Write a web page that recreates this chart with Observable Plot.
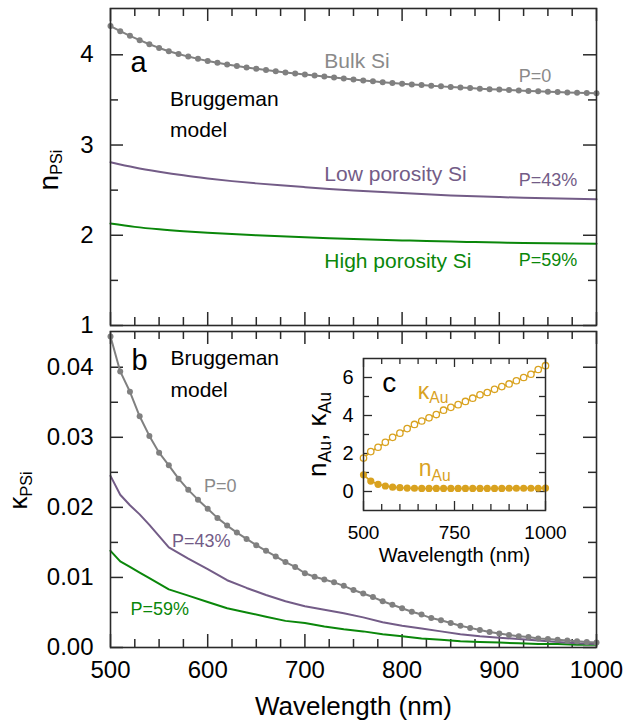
<!DOCTYPE html>
<html>
<head>
<meta charset="utf-8">
<script src="https://cdn.jsdelivr.net/npm/d3@7"></script>
<script src="https://cdn.jsdelivr.net/npm/@observablehq/plot@0.6"></script>
<style>
  html, body { margin: 0; padding: 0; background: #fff; }
  #chart { position: relative; width: 626px; height: 723px; overflow: hidden; }
  #chart svg { position: absolute; left: 0; max-width: none; }
</style>
</head>
<body>
<div id="chart"></div>
<script>
// ---------------- data ----------------
const wl10 = [500,510,520,530,540,550,560,570,580,590,600,610,620,630,640,650,660,670,680,690,700,710,720,730,740,750,760,770,780,790,800,810,820,830,840,850,860,870,880,890,900,910,920,930,940,950,960,970,980,990,1000];
const wl20 = [500,520,540,560,580,600,620,640,660,680,700,720,740,760,780,800,820,840,860,880,900,920,940,960,980,1000];
const wl25 = [500,525,550,575,600,625,650,675,700,725,750,775,800,825,850,875,900,925,950,975,1000];
const wlK  = [500,510,520,530,540,560,580,600,620,640,660,680,700,720,740,760,780,800,820,840,860,880,900,920,940,960,980,1000];

// (a) refractive index n of porous Si
const nBulk = [4.318,4.262,4.210,4.162,4.117,4.076,4.040,4.008,3.980,3.955,3.932,3.912,3.893,3.876,3.860,3.845,3.831,3.818,3.805,3.793,3.781,3.770,3.759,3.748,3.737,3.727,3.716,3.706,3.697,3.688,3.680,3.672,3.664,3.657,3.650,3.643,3.637,3.631,3.625,3.619,3.614,3.609,3.604,3.599,3.595,3.591,3.587,3.583,3.580,3.577,3.574];
const nLow  = [2.81,2.752,2.705,2.664,2.630,2.600,2.575,2.553,2.533,2.514,2.497,2.481,2.467,2.454,2.442,2.432,2.423,2.415,2.409,2.404,2.40];
const nHigh = [2.13,2.093,2.066,2.045,2.028,2.013,2.000,1.988,1.977,1.967,1.958,1.950,1.943,1.936,1.930,1.925,1.920,1.915,1.911,1.908,1.906];

// (b) extinction coefficient kappa of porous Si
const kBulk = [0.0444,0.0394,0.0365,0.0330,0.0302,0.0278,0.0260,0.0241,0.0225,0.0211,0.0198,0.0185,0.0174,0.0164,0.0155,0.0146,0.0138,0.0130,0.0122,0.0115,0.0106,0.0101,0.0097,0.0093,0.0088,0.0082,0.0077,0.0072,0.0066,0.0061,0.0056,0.0051,0.0047,0.0042,0.0039,0.0035,0.0031,0.0028,0.0025,0.0022,0.0020,0.0018,0.0016,0.0015,0.0013,0.0012,0.0011,0.0010,0.0009,0.0008,0.0007];
const kLow  = [0.0245,0.0218,0.0203,0.0190,0.0175,0.0143,0.0127,0.0112,0.0096,0.0085,0.0075,0.0066,0.0059,0.0054,0.0049,0.0043,0.0036,0.0031,0.0027,0.0023,0.0019,0.0016,0.0014,0.0012,0.0010,0.0008,0.0006,0.0005];
const kHigh = [0.0138,0.0123,0.0115,0.0107,0.0099,0.0083,0.0074,0.0065,0.0056,0.0050,0.0044,0.0038,0.0035,0.0030,0.0026,0.0023,0.0019,0.0016,0.0013,0.0011,0.0009,0.0008,0.0007,0.0006,0.0005,0.0005,0.0004,0.0004];

// (c) gold optical constants
const kAu = [1.76,2.10,2.33,2.59,2.85,3.07,3.31,3.53,3.71,3.88,4.05,4.28,4.43,4.57,4.74,4.91,5.09,5.21,5.38,5.52,5.66,5.83,6.00,6.17,6.42,6.62];
const nAu = [0.88,0.55,0.38,0.29,0.23,0.20,0.18,0.17,0.16,0.16,0.16,0.16,0.16,0.16,0.16,0.16,0.16,0.16,0.16,0.16,0.17,0.17,0.17,0.17,0.17,0.18];

// tick values
const xMajor = [500,600,700,800,900,1000];
const xMinor = [525,550,575,625,650,675,725,750,775,825,850,875,925,950,975];
const nMajor = [1,2,3,4];
const nMinor = [1.5,2.5,3.5];
const kMajor = [0,0.01,0.02,0.03,0.04];
const kMinor = [0.005,0.015,0.025,0.035];
const inXMajor = [500,750,1000];
const inXMinor = [550,600,650,700,800,850,900,950];
const inYMajor = [0,2,4,6];
const inYMinor = [1,3,5];

// annotations (anchored in data units)
const annA = {panel: "a", brug1: "Bruggeman", brug2: "model"};
const labelsTopGray = [{t: "Bulk Si", w: 720, v: 3.851}, {t: "P=0", w: 920, v: 3.704}];
const labelsTopPurple = [{t: "Low porosity Si", w: 720, v: 2.601}, {t: "P=43%", w: 920, v: 2.551}];
const labelsTopGreen = [{t: "High porosity Si", w: 720, v: 1.642}, {t: "P=59%", w: 920, v: 1.664}];

// ---------------- style ----------------
const FONT = '"Liberation Sans", Arial, Helvetica, sans-serif';
const GRAY = "#808080", GRAYTXT = "#8a8a8a";
const PURPLE = "#735c87", GREEN = "#0a870a", GOLD = "#d9a21f";
const FRAME = "#2a2a2a";
const W = 626;
const ML = 110, MR = 30;
const innerW = W - ML - MR;
const plain = d => String(d);

const zip = (xs, ys) => xs.map((x, i) => ({w: x, v: ys[i]}));

function edgeTicks(xMaj, xMin, yMaj, yMin, iw, ih, big, small, sw) {
  const o = {stroke: FRAME, strokeWidth: sw};
  return [
    Plot.tickX(xMaj, {x: d => d, insetBottom: ih - big, ...o}),
    Plot.tickX(xMaj, {x: d => d, insetTop: ih - big, ...o}),
    Plot.tickX(xMin, {x: d => d, insetBottom: ih - small, ...o}),
    Plot.tickX(xMin, {x: d => d, insetTop: ih - small, ...o}),
    Plot.tickY(yMaj, {y: d => d, insetRight: iw - big, ...o}),
    Plot.tickY(yMaj, {y: d => d, insetLeft: iw - big, ...o}),
    Plot.tickY(yMin, {y: d => d, insetRight: iw - small, ...o}),
    Plot.tickY(yMin, {y: d => d, insetLeft: iw - small, ...o})
  ];
}

function applySub(svg, subScale, shift) {
  d3.select(svg).selectAll("text").each(function () {
    const raw = this.textContent;
    if (!raw.includes("_{")) return;
    const el = d3.select(this);
    el.text(null);
    const parts = raw.split(/(_\{[^}]*\})/).filter(p => p.length);
    let down = false;
    for (const p of parts) {
      if (p.startsWith("_{")) {
        el.append("tspan").attr("font-size", `${subScale}em`).attr("dy", `${(shift / subScale).toFixed(3)}em`).text(p.slice(2, -1));
        down = true;
      } else {
        const t = el.append("tspan").text(p);
        if (down) { t.attr("dy", `${-shift}em`); down = false; }
      }
    }
  });
}

const baseStyle = {fontFamily: FONT, background: "transparent", overflow: "visible", color: "black"};
const chart = document.getElementById("chart");

// ---------------- panel a ----------------
const topH = 330, topMT = 8, topMB = 5;
const topPlot = Plot.plot({
  width: W, height: topH,
  marginLeft: ML, marginRight: MR, marginTop: topMT, marginBottom: topMB,
  style: baseStyle,
  x: {domain: [500, 1000], axis: null},
  y: {domain: [1, 4.513]},
  marks: [
    ...edgeTicks(xMajor, xMinor, nMajor, nMinor, innerW, topH - topMT - topMB, 13, 8, 1.5),
    Plot.axisY(nMajor, {tickSize: 0, tickPadding: 17, fontSize: 24, label: null, tickFormat: plain, fill: "black"}),
    Plot.line(zip(wl25, nHigh), {x: "w", y: "v", stroke: GREEN, strokeWidth: 2, curve: "monotone-x"}),
    Plot.line(zip(wl25, nLow), {x: "w", y: "v", stroke: PURPLE, strokeWidth: 2, curve: "monotone-x"}),
    Plot.line(zip(wl10, nBulk), {x: "w", y: "v", stroke: GRAY, strokeWidth: 2}),
    Plot.dot(zip(wl10, nBulk), {x: "w", y: "v", r: 3, fill: GRAY, stroke: "none"}),
    Plot.text([annA.panel], {x: 520.6, y: 3.804, fontSize: 29, textAnchor: "start", lineAnchor: "bottom", fill: "black"}),
    Plot.text([annA.brug1], {x: 561.2, y: 3.438, fontSize: 21, textAnchor: "start", lineAnchor: "bottom", fill: "black"}),
    Plot.text([annA.brug2], {x: 561.2, y: 3.087, fontSize: 21, textAnchor: "start", lineAnchor: "bottom", fill: "black"}),
    Plot.text(labelsTopGray.slice(0, 1), {x: "w", y: "v", text: "t", fontSize: 21, textAnchor: "start", lineAnchor: "bottom", fill: GRAYTXT}),
    Plot.text(labelsTopGray.slice(1), {x: "w", y: "v", text: "t", fontSize: 18, textAnchor: "start", lineAnchor: "bottom", fill: GRAYTXT}),
    Plot.text(labelsTopPurple.slice(0, 1), {x: "w", y: "v", text: "t", fontSize: 21, textAnchor: "start", lineAnchor: "bottom", fill: PURPLE}),
    Plot.text(labelsTopPurple.slice(1), {x: "w", y: "v", text: "t", fontSize: 18, textAnchor: "start", lineAnchor: "bottom", fill: PURPLE}),
    Plot.text(labelsTopGreen.slice(0, 1), {x: "w", y: "v", text: "t", fontSize: 21, textAnchor: "start", lineAnchor: "bottom", fill: GREEN}),
    Plot.text(labelsTopGreen.slice(1), {x: "w", y: "v", text: "t", fontSize: 18, textAnchor: "start", lineAnchor: "bottom", fill: GREEN}),
    Plot.text(["n_{PSi}"], {frameAnchor: "left", dx: -53, dy: 3, rotate: -90, textAnchor: "middle", lineAnchor: "bottom", fontSize: 28, fill: "black"}),
    Plot.frame({stroke: FRAME, strokeWidth: 1.6})
  ]
});
topPlot.style.top = "0px";
applySub(topPlot, 0.58, 0.16);
chart.appendChild(topPlot);

// ---------------- panel b ----------------
const botTop = 325, botH = 398, botMT = 6, botMB = 76;
const botLabels = [
  {t: "P=0", w: 596.2, v: 0.02219, c: GRAYTXT},
  {t: "P=43%", w: 563.3, v: 0.01433, c: PURPLE},
  {t: "P=59%", w: 520.6, v: 0.00457, c: GREEN}
];
const botPlot = Plot.plot({
  width: W, height: botH,
  marginLeft: ML, marginRight: MR, marginTop: botMT, marginBottom: botMB,
  style: baseStyle,
  x: {domain: [500, 1000]},
  y: {domain: [0, 0.0451]},
  color: {type: "identity"},
  marks: [
    ...edgeTicks(xMajor, xMinor, kMajor, kMinor, innerW, botH - botMT - botMB, 13, 8, 1.5),
    Plot.axisY(kMajor, {tickSize: 0, tickPadding: 17, fontSize: 24, label: null, tickFormat: d3.format(".2f"), fill: "black"}),
    Plot.axisX(xMajor, {tickSize: 0, tickPadding: 13, fontSize: 24, label: null, tickFormat: plain, fill: "black"}),
    Plot.line(zip(wlK, kHigh), {x: "w", y: "v", stroke: GREEN, strokeWidth: 2}),
    Plot.line(zip(wlK, kLow), {x: "w", y: "v", stroke: PURPLE, strokeWidth: 2}),
    Plot.line(zip(wl10, kBulk), {x: "w", y: "v", stroke: GRAY, strokeWidth: 2}),
    Plot.dot(zip(wl10, kBulk), {x: "w", y: "v", r: 3, fill: GRAY, stroke: "none"}),
    Plot.text(["b"], {x: 521.6, y: 0.03957, fontSize: 29, textAnchor: "start", lineAnchor: "bottom", fill: "black"}),
    Plot.text([annA.brug1], {x: 561.7, y: 0.04029, fontSize: 21, textAnchor: "start", lineAnchor: "bottom", fill: "black"}),
    Plot.text([annA.brug2], {x: 561.7, y: 0.03576, fontSize: 21, textAnchor: "start", lineAnchor: "bottom", fill: "black"}),
    Plot.text(botLabels, {x: "w", y: "v", text: "t", fill: "c", fontSize: 18, textAnchor: "start", lineAnchor: "bottom"}),
    Plot.text(["Wavelength (nm)"], {frameAnchor: "bottom", dy: 67, fontSize: 26, textAnchor: "middle", lineAnchor: "bottom", fill: "black"}),
    Plot.text(["κ_{PSi}"], {frameAnchor: "left", dx: -84, dy: 1, rotate: -90, textAnchor: "middle", lineAnchor: "bottom", fontSize: 26, fill: "black"}),
    Plot.frame({stroke: FRAME, strokeWidth: 1.6})
  ]
});
botPlot.style.top = botTop + "px";
applySub(botPlot, 0.62, 0.2);
chart.appendChild(botPlot);

// ---------------- inset c ----------------
const inL = 363, inR = 545, inT = 358, inB = 510;
const inPlot = Plot.plot({
  width: W, height: 723,
  marginLeft: inL, marginRight: W - inR, marginTop: inT, marginBottom: 723 - inB,
  style: baseStyle,
  x: {domain: [500, 1000]},
  y: {domain: [-1, 7]},
  marks: [
    Plot.frame({fill: "white", stroke: "none"}),
    ...edgeTicks(inXMajor, inXMinor, inYMajor, inYMinor, inR - inL, inB - inT, 9, 6, 1.3),
    Plot.axisY(inYMajor, {tickSize: 0, tickPadding: 10, fontSize: 20, label: null, tickFormat: plain, fill: "black"}),
    Plot.axisX(inXMajor, {tickSize: 0, tickPadding: 15, fontSize: 19, label: null, tickFormat: plain, fill: "black"}),
    Plot.line(zip(wl20, kAu), {x: "w", y: "v", stroke: GOLD, strokeWidth: 1.6}),
    Plot.dot(zip(wl20, kAu), {x: "w", y: "v", r: 3.2, fill: "white", stroke: GOLD, strokeWidth: 1.3}),
    Plot.line(zip(wl20, nAu), {x: "w", y: "v", stroke: GOLD, strokeWidth: 1.6}),
    Plot.dot(zip(wl20, nAu), {x: "w", y: "v", r: 3.6, fill: GOLD, stroke: "none"}),
    Plot.text(["c"], {x: 551.4, y: 5.23, fontSize: 28, textAnchor: "start", lineAnchor: "bottom", fill: "black"}),
    Plot.text(["κ_{Au}"], {x: 649.2, y: 4.88, fontSize: 23, textAnchor: "start", lineAnchor: "bottom", fill: GOLD}),
    Plot.text(["n_{Au}"], {x: 651.9, y: 0.79, fontSize: 23, textAnchor: "start", lineAnchor: "bottom", fill: GOLD}),
    Plot.text(["Wavelength (nm)"], {frameAnchor: "bottom", dy: 51, fontSize: 20, textAnchor: "middle", lineAnchor: "bottom", fill: "black"}),
    Plot.text(["n_{Au}, κ_{Au}"], {frameAnchor: "left", dx: -38, rotate: -90, textAnchor: "middle", lineAnchor: "bottom", fontSize: 26, fill: "black"}),
    Plot.frame({stroke: FRAME, strokeWidth: 1.5})
  ]
});
inPlot.style.top = "0px";
inPlot.style.pointerEvents = "none";
applySub(inPlot, 0.68, 0.2);
chart.appendChild(inPlot);
</script>
</body>
</html>
